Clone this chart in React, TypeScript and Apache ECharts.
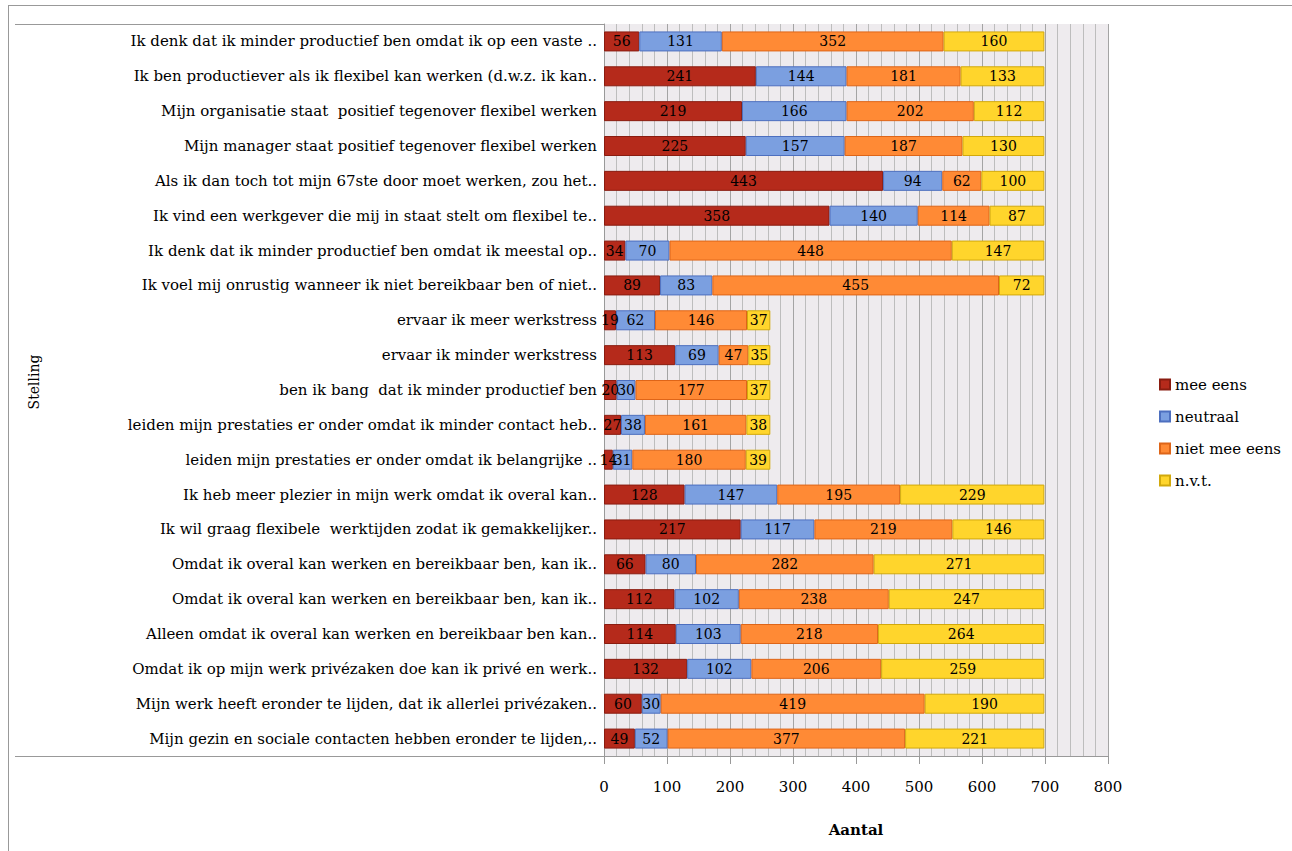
import React, { useEffect, useRef } from "react";
import * as echarts from "echarts";

const categories = [
  "Ik denk dat ik minder productief ben omdat ik op een vaste ..",
  "Ik ben productiever als ik flexibel kan werken (d.w.z. ik kan..",
  "Mijn organisatie staat  positief tegenover flexibel werken",
  "Mijn manager staat positief tegenover flexibel werken",
  "Als ik dan toch tot mijn 67ste door moet werken, zou het..",
  "Ik vind een werkgever die mij in staat stelt om flexibel te..",
  "Ik denk dat ik minder productief ben omdat ik meestal op..",
  "Ik voel mij onrustig wanneer ik niet bereikbaar ben of niet..",
  "ervaar ik meer werkstress",
  "ervaar ik minder werkstress",
  "ben ik bang  dat ik minder productief ben",
  "leiden mijn prestaties er onder omdat ik minder contact heb..",
  "leiden mijn prestaties er onder omdat ik belangrijke ..",
  "Ik heb meer plezier in mijn werk omdat ik overal kan..",
  "Ik wil graag flexibele  werktijden zodat ik gemakkelijker..",
  "Omdat ik overal kan werken en bereikbaar ben, kan ik..",
  "Omdat ik overal kan werken en bereikbaar ben, kan ik..",
  "Alleen omdat ik overal kan werken en bereikbaar ben kan..",
  "Omdat ik op mijn werk privézaken doe kan ik privé en werk..",
  "Mijn werk heeft eronder te lijden, dat ik allerlei privézaken..",
  "Mijn gezin en sociale contacten hebben eronder te lijden,..",
];

const meeEens = [56, 241, 219, 225, 443, 358, 34, 89, 19, 113, 20, 27, 14, 128, 217, 66, 112, 114, 132, 60, 49];
const neutraal = [131, 144, 166, 157, 94, 140, 70, 83, 62, 69, 30, 38, 31, 147, 117, 80, 102, 103, 102, 30, 52];
const nietMeeEens = [352, 181, 202, 187, 62, 114, 448, 455, 146, 47, 177, 161, 180, 195, 219, 282, 238, 218, 206, 419, 377];
const nvt = [160, 133, 112, 130, 100, 87, 147, 72, 37, 35, 37, 38, 39, 229, 146, 271, 247, 264, 259, 190, 221];

const xTicks = [0, 100, 200, 300, 400, 500, 600, 700, 800];

const seriesDefs = [
  { name: "mee eens", data: meeEens, color: "#b52a1b", border: "#8a1c10" },
  { name: "neutraal", data: neutraal, color: "#7b9fe0", border: "#4d6fbf" },
  { name: "niet mee eens", data: nietMeeEens, color: "#ff8a35", border: "#de6518" },
  { name: "n.v.t.", data: nvt, color: "#ffd52c", border: "#d2a90c" },
];

const FONT = "DejaVu Serif";

export default function App() {
  const ref = useRef<HTMLDivElement>(null);
  useEffect(() => {
    if (!ref.current) return;
    const chart = echarts.init(ref.current, undefined, { renderer: "svg" });
    const option = {
      animation: false,
      backgroundColor: "#ffffff",
      grid: {
        left: 604,
        right: 184,
        top: 24,
        bottom: 95,
        show: true,
        backgroundColor: "#eeebee",
        borderWidth: 0,
      },
      legend: {
        orient: "vertical",
        left: 1154,
        top: 372,
        itemWidth: 10,
        itemHeight: 10,
        itemGap: 17,
        icon: "rect",
        textStyle: { fontFamily: FONT, fontSize: 15, color: "#000" },
        data: seriesDefs.map((s) => s.name),
      },
      xAxis: {
        type: "value",
        min: xTicks[0],
        max: xTicks[xTicks.length - 1],
        interval: 100,
        name: "Aantal",
        nameLocation: "middle",
        nameGap: 66,
        nameTextStyle: { fontFamily: FONT, fontSize: 15, fontWeight: "bold", color: "#000" },
        axisLine: { show: true, lineStyle: { color: "#999", width: 1 } },
        axisTick: { show: true, length: 8, lineStyle: { color: "#999" } },
        axisLabel: { fontFamily: FONT, fontSize: 15, color: "#000", margin: 23 },
        splitLine: { show: true, lineStyle: { color: "#a4a4a4", width: 1 } },
        minorTick: { show: false, splitNumber: 5 },
        minorSplitLine: { show: true, lineStyle: { color: "#bdbdbd", width: 1 } },
      },
      yAxis: {
        type: "category",
        inverse: true,
        data: categories.map((_, i) => String(i)),
        axisLine: { show: true, lineStyle: { color: "#999" } },
        axisTick: { show: false },
        axisLabel: {
          fontFamily: FONT,
          fontSize: 15,
          color: "#000",
          margin: 7,
          formatter: (_v: string, i: number) => categories[i],
        },
        splitLine: { show: false },
      },
      series: seriesDefs.map((s) => ({
        name: s.name,
        type: "bar",
        stack: "total",
        barWidth: 20,
        data: s.data,
        itemStyle: { color: s.color, borderColor: s.border, borderWidth: 1 },
        label: {
          show: true,
          position: "inside",
          color: "#000",
          fontFamily: FONT,
          fontSize: 14,
        },
      })),
      graphic: [
        { type: "line", shape: { x1: 8.5, y1: 5, x2: 8.5, y2: 851 }, style: { stroke: "#999", lineWidth: 1 } },
        { type: "line", shape: { x1: 8, y1: 5.5, x2: 1292, y2: 5.5 }, style: { stroke: "#999", lineWidth: 1 } },
        { type: "line", shape: { x1: 15, y1: 24.5, x2: 604, y2: 24.5 }, style: { stroke: "#999", lineWidth: 1 } },
        { type: "line", shape: { x1: 15, y1: 756.5, x2: 604, y2: 756.5 }, style: { stroke: "#999", lineWidth: 1 } },
        {
          type: "text",
          x: 34,
          y: 382,
          rotation: Math.PI / 2,
          style: {
            text: "Stelling",
            fontFamily: FONT,
            fontSize: 14,
            fill: "#000",
            align: "center",
            verticalAlign: "middle",
          },
        },
      ],
    };
    chart.setOption(option as any);
    return () => chart.dispose();
  }, []);
  return (
    <div
      ref={ref}
      style={{ position: "fixed", left: 0, top: 0, width: 1292, height: 851 }}
    />
  );
}
